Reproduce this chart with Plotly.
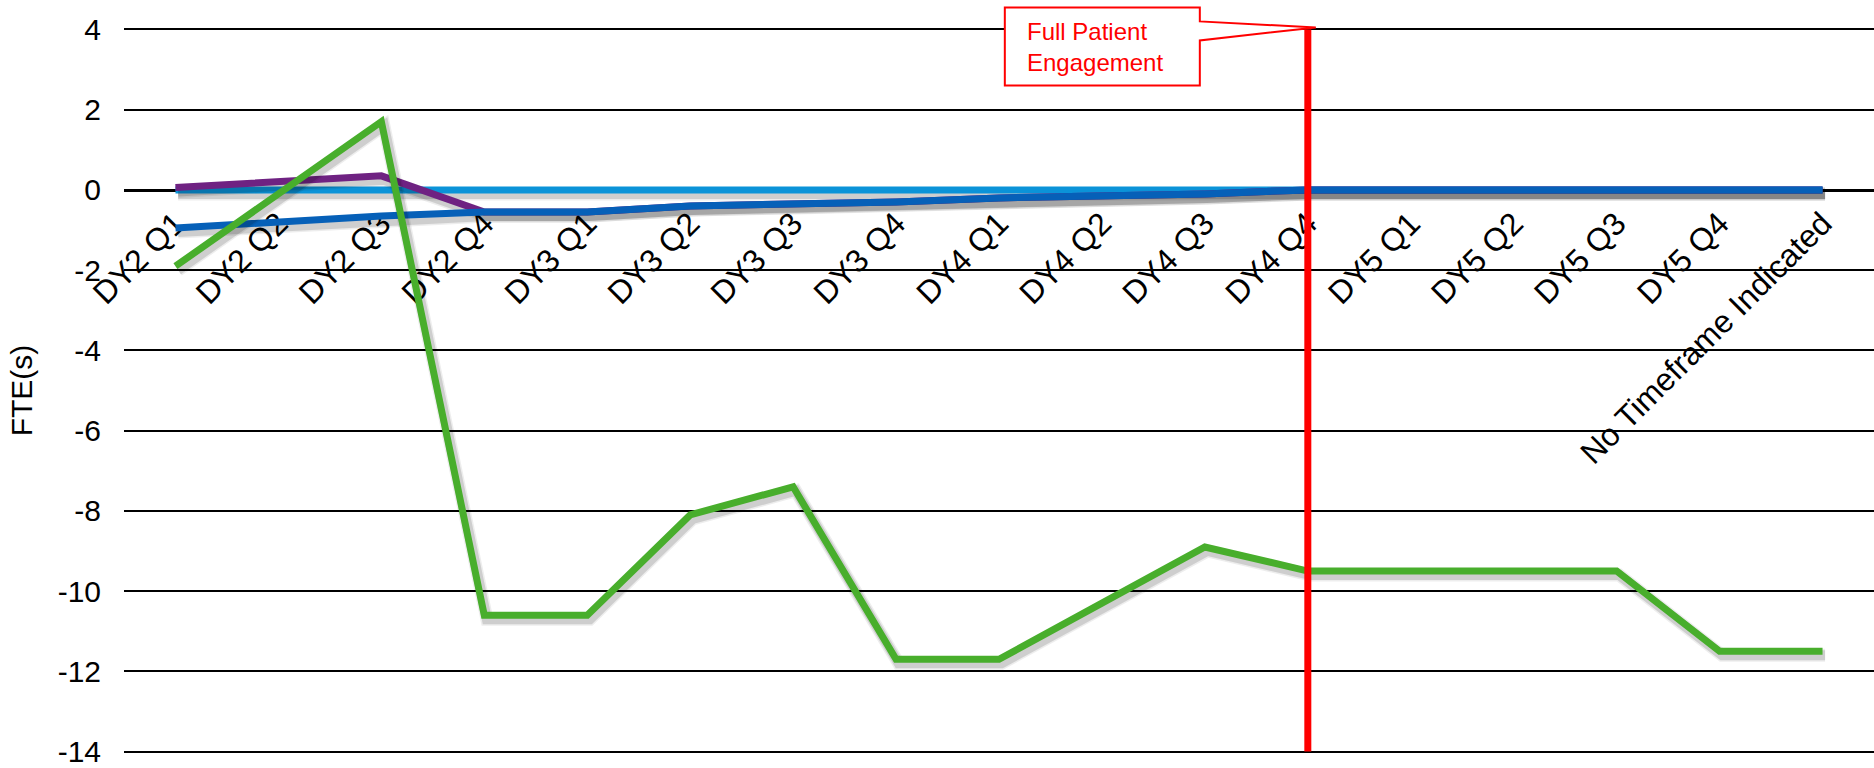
import plotly.graph_objects as go

# ---- data -------------------------------------------------------------
categories = [
    "DY2 Q1", "DY2 Q2", "DY2 Q3", "DY2 Q4",
    "DY3 Q1", "DY3 Q2", "DY3 Q3", "DY3 Q4",
    "DY4 Q1", "DY4 Q2", "DY4 Q3", "DY4 Q4",
    "DY5 Q1", "DY5 Q2", "DY5 Q3", "DY5 Q4",
    "No Timeframe Indicated",
]

light_blue_vals = [0, 0, 0, 0, 0, 0, 0, 0, 0, 0, 0, 0, 0, 0, 0, 0, 0]
purple_vals = [0.06, 0.2, 0.35, -0.55, -0.55, -0.4, -0.35, -0.3, -0.2, -0.16, -0.1,
               0, 0, 0, 0, 0, 0]
dark_blue_vals = [-0.95, -0.8, -0.65, -0.55, -0.55, -0.4, -0.35, -0.3, -0.2, -0.16, -0.1,
                  0, 0, 0, 0, 0, 0]
green_vals = [-1.9, -0.1, 1.7, -10.6, -10.6, -8.1, -7.4, -11.7, -11.7, -10.3, -8.9,
              -9.5, -9.5, -9.5, -9.5, -11.5, -11.5]

y_ticks = [4, 2, 0, -2, -4, -6, -8, -10, -12, -14]
y_tick_labels = ["4", "2", "0", "-2", "-4", "-6", "-8", "-10", "-12", "-14"]
y_min, y_max = -14, 4

milestone_category = "DY4 Q4"
milestone_label = "Full Patient<br>Engagement"

# ---- styling ----------------------------------------------------------
FONT = "Arial, 'Liberation Sans', sans-serif"
LINE_W = 7
PAD = 0.06  # keeps the outer gridlines inside the plotting area

series = [
    (light_blue_vals, "#0B93D8"),
    (purple_vals, "#6F2282"),
    (dark_blue_vals, "#0660B8"),
    (green_vals, "#48AE2C"),
]

x_idx = list(range(len(categories)))
y_range = [y_min - PAD, y_max + PAD]
x_range = [-0.5, len(categories) - 0.5]
units_per_px = (y_range[1] - y_range[0]) / 729.0

fig = go.Figure()

# soft drop shadow under each line, then the line itself
for vals, color in series:
    for width, alpha in ((13, 0.07), (10, 0.13)):
        fig.add_trace(go.Scatter(
            x=[i + 0.025 for i in x_idx],
            y=[v - 4 * units_per_px for v in vals],
            mode="lines",
            line=dict(color=f"rgba(0,0,0,{alpha})", width=width),
            hoverinfo="skip", showlegend=False,
        ))
    fig.add_trace(go.Scatter(
        x=x_idx, y=vals, mode="lines",
        line=dict(color=color, width=LINE_W),
        showlegend=False,
    ))

# milestone marker line
m_idx = categories.index(milestone_category)
fig.add_trace(go.Scatter(
    x=[m_idx, m_idx], y=[y_max, y_min],
    mode="lines", line=dict(color="#FF0000", width=7),
    hoverinfo="skip", showlegend=False,
))

# callout box with pointer towards the top of the milestone line
anchor_px = (m_idx - x_range[0]) / (x_range[1] - x_range[0])
anchor_py = (y_max - y_range[0]) / (y_range[1] - y_range[0])
fig.add_shape(
    type="path",
    xref="paper", yref="paper",
    xsizemode="pixel", ysizemode="pixel",
    xanchor=anchor_px, yanchor=anchor_py,
    path="M -303 22 L -108 22 L -108 8 L 8 2 L -108 -11 L -108 -56 L -303 -56 Z",
    fillcolor="white",
    line=dict(color="#FF0000", width=2),
    layer="above",
)
fig.add_annotation(
    x=anchor_px, y=anchor_py, xref="paper", yref="paper",
    text=milestone_label, showarrow=False,
    xanchor="left", yanchor="middle", align="left",
    xshift=-283, yshift=-18,
    font=dict(family=FONT, size=24, color="#FF0000"),
)

zero_pos = (0 - y_range[0]) / (y_range[1] - y_range[0])

fig.update_layout(
    width=1874, height=768,
    margin=dict(l=124, r=0, t=27, b=12),
    plot_bgcolor="white", paper_bgcolor="white",
    font=dict(family=FONT, size=28, color="black"),
    showlegend=False,
    xaxis=dict(
        range=x_range,
        tickmode="array", tickvals=x_idx, ticktext=categories,
        tickangle=-45,
        anchor="free", position=zero_pos,
        showline=True, linecolor="black", linewidth=3,
        showgrid=False, zeroline=False, ticks="",
        layer="below traces",
        ticklabeloverflow="allow",
        tickfont=dict(family=FONT, size=32, color="black"),
    ),
    yaxis=dict(
        range=y_range,
        tickmode="array", tickvals=y_ticks, ticktext=y_tick_labels,
        showgrid=True, gridcolor="black", gridwidth=2,
        zeroline=False, showline=False, ticks="",
        ticklabelstandoff=22,
        ticklabeloverflow="allow",
        layer="below traces",
        tickfont=dict(family=FONT, size=30, color="black"),
        title=dict(text="FTE(s)", font=dict(family=FONT, size=30, color="black"),
                   standoff=16),
    ),
)

fig.write_html("out.html")
